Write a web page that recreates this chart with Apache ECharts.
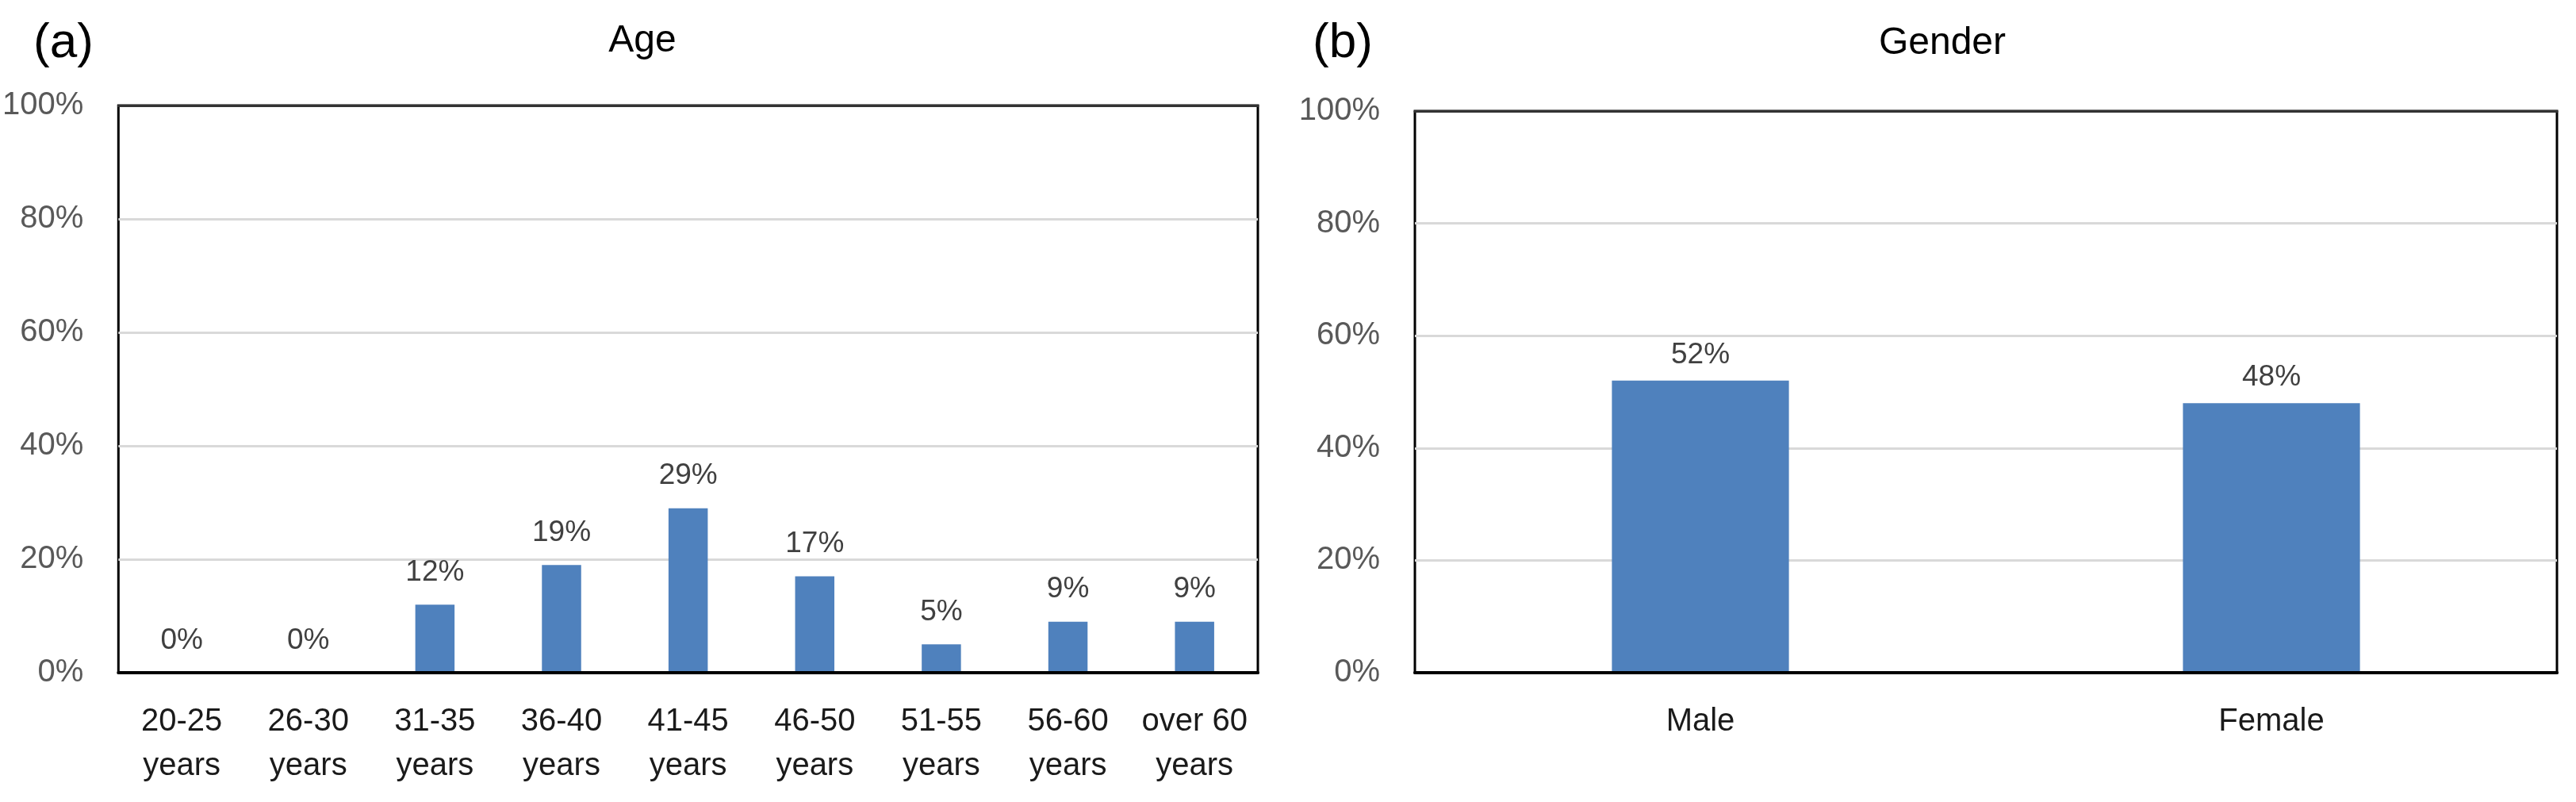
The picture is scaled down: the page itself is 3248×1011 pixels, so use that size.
<!DOCTYPE html>
<html>
<head>
<meta charset="utf-8">
<script src="https://cdn.jsdelivr.net/npm/echarts@6/dist/echarts.min.js"></script>
<style>
html,body{margin:0;padding:0;background:#fff;}
#chart{width:3248px;height:1011px;}
</style>
</head>
<body>
<div id="chart"></div>
<script>
// ---- data ----
const ageCategories = ['20-25\nyears', '26-30\nyears', '31-35\nyears', '36-40\nyears', '41-45\nyears', '46-50\nyears', '51-55\nyears', '56-60\nyears', 'over 60\nyears'];
const ageValues = [0, 0, 12, 19, 29, 17, 5, 9, 9];
const genderCategories = ['Male', 'Female'];
const genderValues = [52, 48];
const yTicks = { min: 0, max: 100, interval: 20 };
const panelTitles = ['Age', 'Gender'];
const panelTags = ['(a)', '(b)'];

// ---- styles ----
const FONT = '"Liberation Sans", Arial, sans-serif';
const barColor = '#4f81bd';

function yAxisFor(gridIndex) {
  return {
    type: 'value', gridIndex: gridIndex,
    min: yTicks.min, max: yTicks.max, interval: yTicks.interval,
    axisLine: { show: false }, axisTick: { show: false },
    axisLabel: { formatter: '{value}%', fontFamily: FONT, fontSize: 40, color: '#595959', margin: 44 },
    splitLine: { lineStyle: { color: '#d9d9d9', width: 3 } }
  };
}
function xAxisFor(gridIndex, cats) {
  return {
    type: 'category', gridIndex: gridIndex, data: cats,
    axisTick: { show: false },
    axisLine: { lineStyle: { color: '#000', width: 4 } },
    axisLabel: { fontFamily: FONT, fontSize: 40, color: '#1a1a1a', margin: 34, lineHeight: 56, interval: 0 },
    z: 4
  };
}
function topBorderAxis(gridIndex, cats) {
  return {
    type: 'category', gridIndex: gridIndex, data: cats, position: 'top',
    axisTick: { show: false }, axisLabel: { show: false }, splitLine: { show: false },
    axisLine: { lineStyle: { color: '#333', width: 3 } },
    z: 4
  };
}
function barSeries(idx, values, dist) {
  return {
    type: 'bar', xAxisIndex: idx, yAxisIndex: idx, data: values,
    barWidth: '31%',
    itemStyle: { color: barColor },
    label: { show: true, position: 'top', distance: dist, formatter: '{c}%', fontFamily: FONT, fontSize: 37, color: '#404040' },
    animation: false
  };
}

const option = {
  animation: false,
  backgroundColor: '#fff',
  title: [
    { text: panelTags[0], left: 75, top: 50, textAlign: 'center', textVerticalAlign: 'middle', textStyle: { fontFamily: FONT, fontSize: 62, fontWeight: 'normal', color: '#000' } },
    { text: panelTitles[0], left: 805, top: 47, textAlign: 'center', textVerticalAlign: 'middle', textStyle: { fontFamily: FONT, fontSize: 48, fontWeight: 'normal', color: '#000' } },
    { text: panelTags[1], left: 1688, top: 50, textAlign: 'center', textVerticalAlign: 'middle', textStyle: { fontFamily: FONT, fontSize: 62, fontWeight: 'normal', color: '#000' } },
    { text: panelTitles[1], left: 2444, top: 50, textAlign: 'center', textVerticalAlign: 'middle', textStyle: { fontFamily: FONT, fontSize: 48, fontWeight: 'normal', color: '#000' } }
  ],
  grid: [
    { left: 143, right: 1662, top: 133, bottom: 163, show: true, borderColor: '#000', borderWidth: 3, backgroundColor: 'transparent' },
    { left: 1784, right: 24, top: 140, bottom: 163, show: true, borderColor: '#000', borderWidth: 3, backgroundColor: 'transparent' }
  ],
  xAxis: [xAxisFor(0, ageCategories), xAxisFor(1, genderCategories), topBorderAxis(0, ageCategories), topBorderAxis(1, genderCategories)],
  yAxis: [yAxisFor(0), yAxisFor(1)],
  series: [barSeries(0, ageValues, 22), barSeries(1, genderValues, 14)]
};

const chart = echarts.init(document.getElementById('chart'), null, { renderer: 'canvas' });
chart.setOption(option);
</script>
</body>
</html>
